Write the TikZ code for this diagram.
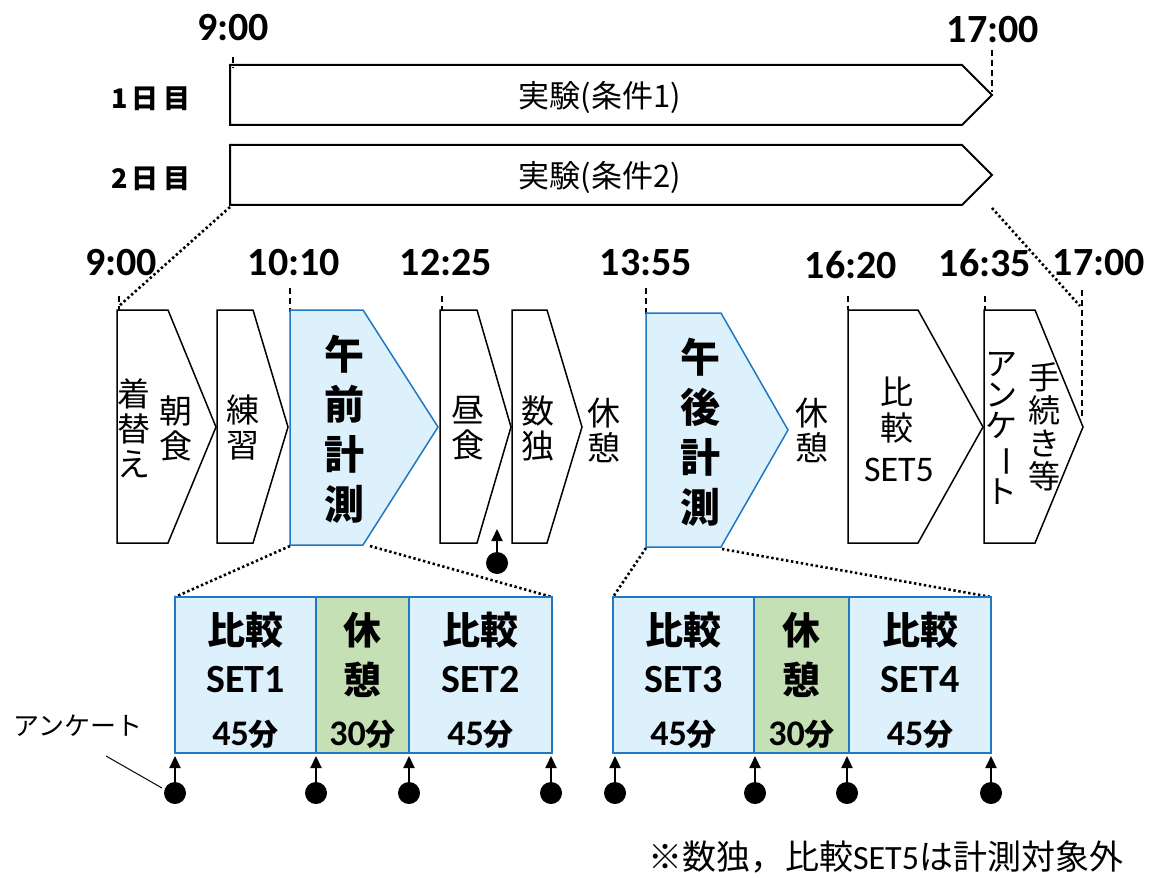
\documentclass[tikz,border=0pt]{standalone}
\usepackage{fontspec}
\usepackage{graphicx}
\setmainfont{Noto Sans CJK JP}
\newfontfamily\cf{Carlito}
\usetikzlibrary{arrows.meta}
\definecolor{lb}{HTML}{DDF1FC}
\definecolor{bl}{HTML}{1F78C1}
\definecolor{gr}{HTML}{C5E0B4}
\newcommand\fs[2]{\fontsize{#1}{#2}\selectfont}
\newcommand\vbar{\rotatebox[origin=c]{-90}{ー}}
\begin{document}
\begin{tikzpicture}[x=1pt,y=-1pt,
  bar/.style={draw, line width=2pt, fill=white},
  chv/.style={draw, line width=1.5pt, fill=white},
  bchv/.style={draw=bl, line width=1.5pt, fill=lb},
  dotl/.style={line width=2.6pt, dash pattern=on 2.4pt off 2.6pt},
  dsh/.style={line width=1.6pt, dash pattern=on 6pt off 4pt},
  tm/.style={font=\cf\bfseries\fs{40}{40}, inner sep=0},
  vt/.style={align=center, inner sep=0, font=\fs{33}{35}},
  bvt/.style={align=center, inner sep=0, font=\bfseries\fs{40}{50}},
  sb/.style={draw=bl, line width=1.8pt, fill=lb},
  gb/.style={draw=bl, line width=1.8pt, fill=gr},
  bt/.style={inner sep=0, font=\bfseries\fs{38}{38}},
  st/.style={inner sep=0, font=\cf\bfseries\fs{40}{40}},
  dayl/.style={inner sep=0, font=\bfseries\fs{27}{27}},
  bdot/.style={circle, fill=black, inner sep=0, minimum size=22pt},
  arr/.style={line width=2.2pt, -{Triangle[length=12pt,width=11pt]}}
]
\useasboundingbox (0,0) rectangle (1155,877);

% ---- top bars ----
\filldraw[bar] (230,65) -- (962,65) -- (992,95) -- (962,125) -- (230,125) -- cycle;
\filldraw[bar] (230,145) -- (962,145) -- (992,175) -- (962,205) -- (230,205) -- cycle;
\node[inner sep=0, font=\fs{31}{31}] (e1) at (600,97) {実験(条件1)};
\node[inner sep=0, font=\fs{31}{31}] (e2) at (600,177) {実験(条件2)};
\node[dayl] (d1) at (151,99) {1\hspace{3pt}日\hspace{5pt}目};
\node[dayl] (d2) at (151,179) {2\hspace{3pt}日\hspace{5pt}目};
\node[tm] (t900a) at (233,28) {9:00};
\node[tm] (t1700a) at (993,30) {17:00};
\coordinate (k1a) at (233,57); \coordinate (k1b) at (233,68);
\draw[dsh] (k1a) -- (k1b);
\coordinate (k2a) at (992,50); \coordinate (k2b) at (992,92);
\draw[dsh] (k2a) -- (k2b);

% ---- zoom dotted lines ----
\coordinate (b2l) at (230,207); \coordinate (m900) at (119,306);
\coordinate (b2r) at (992,208); \coordinate (m1700) at (1080,306);
\draw[dotl] (b2l) -- (m900);
\draw[dotl] (b2r) -- (m1700);

% ---- middle times ----
\node[tm] (t900) at (121,263) {9:00};
\node[tm] (t1010) at (294,263) {10:10};
\node[tm] (t1225) at (446,263) {12:25};
\node[tm] (t1355) at (646,263) {13:55};
\node[tm] (t1620) at (851,265) {16:20};
\node[tm] (t1635) at (985,263) {16:35};
\node[tm] (t1700) at (1099,263) {17:00};

% ticks
\foreach \x/\a/\b in {119/296/310, 290/288/312, 442/296/310, 646/288/314, 848/296/310, 985/296/310, 1082/290/416}{
  \draw[dsh] (\x,\a) -- (\x,\b);
}

% ---- chevrons ----
\filldraw[chv] (117,310) -- (168,310) -- (216,427) -- (168,543) -- (117,543) -- cycle;
\filldraw[chv] (217,310) -- (253,310) -- (288,427) -- (253,543) -- (217,543) -- cycle;
\filldraw[bchv] (290,310) -- (363,310) -- (438,427) -- (363,545) -- (290,545) -- cycle;
\filldraw[chv] (440,310) -- (477,310) -- (511,427) -- (477,543) -- (440,543) -- cycle;
\filldraw[chv] (512,310) -- (547,310) -- (582,427) -- (547,543) -- (512,543) -- cycle;
\filldraw[bchv] (646,313) -- (721,313) -- (788,430) -- (721,547) -- (646,547) -- cycle;
\filldraw[chv] (848,310) -- (918,310) -- (983,427) -- (918,543) -- (848,543) -- cycle;
\filldraw[chv] (984,310) -- (1035,310) -- (1083,427) -- (1035,543) -- (984,543) -- cycle;

% chevron texts
\node[vt] (kig) at (134,428) {着\\替\\え};
\node[vt] (cho) at (176,428) {朝\\食};
\node[vt] (ren) at (243,428) {練\\習};
\node[bvt] (gozen) at (344,429) {午\\前\\計\\測};
\node[vt] (hiru) at (468,428) {昼\\食};
\node[vt] (sudo) at (538,428) {数\\独};
\node[vt] (kyu1) at (604,430) {休\\憩};
\node[bvt] (gogo) at (700,432) {午\\後\\計\\測};
\node[vt] (kyu2) at (812,430) {休\\憩};
\node[inner sep=0, font=\fs{33}{33}] (hk5a) at (897,392) {比};
\node[inner sep=0, font=\fs{33}{33}] (hk5b) at (897,428) {較};
\node[inner sep=0, font=\cf\fs{36}{36}] (hk5c) at (899,470) {SET5};
\node[align=center, inner sep=0, font=\fs{32}{31}] (ank) at (1001,428) {ア\\ン\\ケ\\\vbar\\ト};
\node[align=center, inner sep=0, font=\fs{32}{33}] (tet) at (1044,427) {手\\続\\き\\等};

% arrow under lunch
\node[bdot] (q0) at (497,563) {};
\coordinate (q0t) at (497,529);
\draw[arr] (q0) -- (q0t);

% ---- dotted to detail boxes ----
\coordinate (gz1) at (290,546); \coordinate (gz2) at (370,546);
\coordinate (gg1) at (646,548); \coordinate (gg2) at (722,549);
\coordinate (L1) at (175,597); \coordinate (L2) at (552,597);
\coordinate (R1) at (613,597); \coordinate (R2) at (991,597);
\draw[dotl] (gz1) -- (L1);
\draw[dotl] (gz2) -- (L2);
\draw[dotl] (gg1) -- (R1);
\draw[dotl] (gg2) -- (R2);

% ---- detail boxes ----
\filldraw[sb] (175,597) rectangle (316,753);
\filldraw[gb] (316,597) rectangle (409,753);
\filldraw[sb] (409,597) rectangle (552,753);
\filldraw[sb] (613,597) rectangle (754,753);
\filldraw[gb] (754,597) rectangle (849,753);
\filldraw[sb] (849,597) rectangle (991,753);

\foreach \n/\x/\s/\m in {s1/245.5/SET1/45, s2/480.5/SET2/45, s3/683.5/SET3/45, s4/920/SET4/45}{
  \node[bt] (\n a) at (\x,630) {比較};
  \node[st] (\n b) at (\x,680) {\s};
  \node[inner sep=0] (\n c) at (\x,734) {{\cf\bfseries\fs{36}{36}\m}{\bfseries\fs{30}{30}分}};
}
\foreach \n/\x in {r1/362.5, r2/801.5}{
  \node[bt] (\n a) at (\x,630) {休};
  \node[bt] (\n b) at (\x,680) {憩};
  \node[inner sep=0] (\n c) at (\x,734) {{\cf\bfseries\fs{36}{36}30}{\bfseries\fs{30}{30}分}};
}

% ---- survey arrows ----
\foreach \i/\x in {1/175, 2/316, 3/409, 4/551, 5/615, 6/755, 7/847, 8/991}{
  \node[bdot] (p\i) at (\x,793) {};
  \coordinate (p\i t) at (\x,756);
  \draw[arr] (p\i) -- (p\i t);
}

\node[inner sep=0, font=\fs{26}{26}] (ankl) at (78,726) {アンケート};
\coordinate (al1) at (106,756); \coordinate (al2) at (162,788);
\draw[line width=1pt] (al1) -- (al2);

\node[inner sep=0, font=\fs{34}{34}] (note) at (886,857) {※数独，比較{\cf SET5}は計測対象外};
\end{tikzpicture}
\end{document}
